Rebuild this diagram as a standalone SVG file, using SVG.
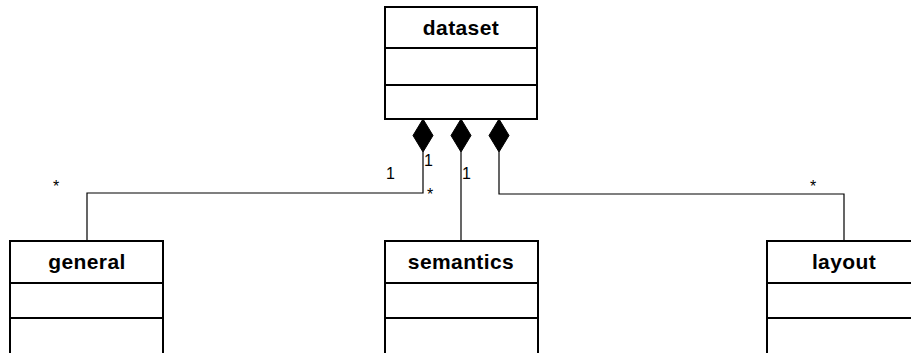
<svg xmlns="http://www.w3.org/2000/svg" width="911" height="353" viewBox="0 0 911 353">
  <style>
    .box { fill: #fff; stroke: #000; stroke-width: 2; }
    .div { stroke: #000; stroke-width: 2; }
    .title { font-family: "Liberation Sans", Arial, sans-serif; font-weight: bold; font-size: 21px; letter-spacing: 0.4px; text-anchor: middle; fill: #000; }
    .mult { font-family: "Liberation Sans", Arial, sans-serif; font-size: 16px; fill: #000; }
    .conn { fill: none; stroke: #000; stroke-width: 1.2; }
    .diamond { fill: #000; stroke: #000; stroke-width: 1; }
  </style>

  <!-- composition connectors -->
  <g id="connectors">
    <polyline class="conn" points="423,152 423,193 87,193 87,241"/>
    <polyline class="conn" points="461,152 461,241"/>
    <polyline class="conn" points="499,152 499,194 844,194 844,241"/>
    <polygon class="diamond" points="423,119 433,135.5 423,152 413,135.5"/>
    <polygon class="diamond" points="461,119 471,135.5 461,152 451,135.5"/>
    <polygon class="diamond" points="499,119 509,135.5 499,152 489,135.5"/>
    <text class="mult" x="53" y="192">*</text>
    <text class="mult" x="386" y="179">1</text>
    <text class="mult" x="424" y="166">1</text>
    <text class="mult" x="427" y="200">*</text>
    <text class="mult" x="462" y="179">1</text>
    <text class="mult" x="810" y="192">*</text>
  </g>

  <g id="dataset">
    <rect class="box" x="385" y="7" width="152" height="112"/>
    <line class="div" x1="385" y1="48" x2="537" y2="48"/>
    <line class="div" x1="385" y1="85" x2="537" y2="85"/>
    <text class="title" x="461" y="35">dataset</text>
  </g>

  <g id="general">
    <rect class="box" x="10" y="241" width="153" height="130"/>
    <line class="div" x1="10" y1="283" x2="163" y2="283"/>
    <line class="div" x1="10" y1="318" x2="163" y2="318"/>
    <text class="title" x="87" y="269">general</text>
  </g>

  <g id="semantics">
    <rect class="box" x="385" y="241" width="153" height="130"/>
    <line class="div" x1="385" y1="283" x2="538" y2="283"/>
    <line class="div" x1="385" y1="318" x2="538" y2="318"/>
    <text class="title" x="461" y="269">semantics</text>
  </g>

  <g id="layout">
    <rect class="box" x="767" y="241" width="153" height="130"/>
    <line class="div" x1="767" y1="283" x2="920" y2="283"/>
    <line class="div" x1="767" y1="318" x2="920" y2="318"/>
    <text class="title" x="844" y="269">layout</text>
  </g>
</svg>
